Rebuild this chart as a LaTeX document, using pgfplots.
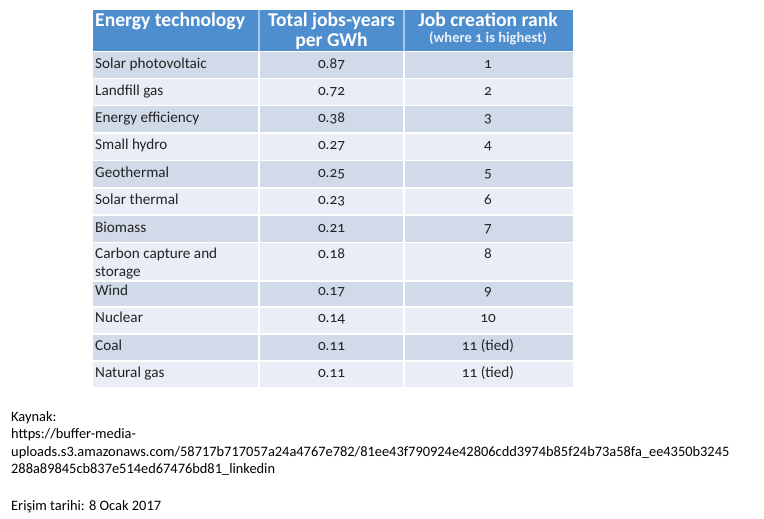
\documentclass[border=0pt]{standalone}
\usepackage{pgfplots}
\pgfplotsset{compat=1.18}
\usepackage{fontspec}
\setmainfont{Carlito}[Numbers=OldStyle]
\newfontfamily\footfont{Carlito}
\definecolor{hdr}{RGB}{79,142,206}
\definecolor{rowA}{RGB}{208,218,233}
\definecolor{rowB}{RGB}{233,237,245}
\definecolor{hdrline}{RGB}{165,200,235}
\definecolor{txt}{RGB}{35,35,35}
\begin{document}
\begin{tikzpicture}
\begin{axis}[
  width=764bp, height=519bp, scale only axis,
  xmin=0, xmax=764, ymin=0, ymax=519, y dir=reverse,
  hide axis, clip=false,
]
% header and row backgrounds
\addplot[fill=hdr, draw=none] coordinates {(93,10) (573,10) (573,51) (93,51)} -- cycle;
\addplot[fill=rowA, draw=none] coordinates {(93,52.5) (573,52.5) (573,78) (93,78)} -- cycle;
\addplot[fill=rowB, draw=none] coordinates {(93,79.5) (573,79.5) (573,105) (93,105)} -- cycle;
\addplot[fill=rowA, draw=none] coordinates {(93,106.5) (573,106.5) (573,132) (93,132)} -- cycle;
\addplot[fill=rowB, draw=none] coordinates {(93,133.5) (573,133.5) (573,159.5) (93,159.5)} -- cycle;
\addplot[fill=rowA, draw=none] coordinates {(93,161) (573,161) (573,187) (93,187)} -- cycle;
\addplot[fill=rowB, draw=none] coordinates {(93,188.5) (573,188.5) (573,214) (93,214)} -- cycle;
\addplot[fill=rowA, draw=none] coordinates {(93,215.5) (573,215.5) (573,241.5) (93,241.5)} -- cycle;
\addplot[fill=rowB, draw=none] coordinates {(93,243) (573,243) (573,280) (93,280)} -- cycle;
\addplot[fill=rowA, draw=none] coordinates {(93,281.5) (573,281.5) (573,306) (93,306)} -- cycle;
\addplot[fill=rowB, draw=none] coordinates {(93,307.5) (573,307.5) (573,333) (93,333)} -- cycle;
\addplot[fill=rowA, draw=none] coordinates {(93,334.5) (573,334.5) (573,360) (93,360)} -- cycle;
\addplot[fill=rowB, draw=none] coordinates {(93,361.5) (573,361.5) (573,387) (93,387)} -- cycle;
% column dividers
\addplot[white, line width=1.5bp] coordinates {(259,51) (259,387)};
\addplot[white, line width=1.5bp] coordinates {(404,51) (404,387)};
\addplot[hdrline, line width=1.2bp] coordinates {(259,10) (259,51)};
\addplot[hdrline, line width=1.2bp] coordinates {(404,10) (404,51)};
% header texts
\addplot[draw=none, mark=none, nodes near coords, point meta=explicit symbolic,
  every node near coord/.style={anchor=base west, inner sep=0pt, text=white, font=\fontsize{19.6bp}{21bp}\bfseries\selectfont}]
  coordinates {(95,27) [Energy technology]};
\addplot[draw=none, mark=none, nodes near coords, point meta=explicit symbolic,
  every node near coord/.style={anchor=base, inner sep=0pt, text=white, font=\fontsize{19.6bp}{21bp}\bfseries\selectfont}]
  coordinates {(331.5,27) [Total jobs-years] (331.5,47) [per GWh] (488,27) [Job creation rank]};
\addplot[draw=none, mark=none, nodes near coords, point meta=explicit symbolic,
  every node near coord/.style={anchor=base, inner sep=0pt, text=white!88!hdr, font=\fontsize{14.5bp}{16bp}\bfseries\selectfont}]
  coordinates {(488,43) [(where 1 is highest)]};
% technology names
\addplot[draw=none, mark=none, nodes near coords, point meta=explicit symbolic,
  every node near coord/.style={anchor=base west, inner sep=0pt, text=txt, font=\fontsize{15.2bp}{17bp}\selectfont}]
  coordinates {
  (95,68.5) [Solar photovoltaic]
  (95,95.5) [Landfill gas]
  (95,122.5) [Energy efficiency]
  (95,150) [Small hydro]
  (95,177.5) [Geothermal]
  (95,204.5) [Solar thermal]
  (95,232) [Biomass]
  (95,258.5) [Carbon capture and]
  (95,276.5) [storage]
  (95,295.5) [Wind]
  (95,322.5) [Nuclear]
  (95,350) [Coal]
  (95,377.5) [Natural gas]
  };
% jobs-years per GWh
\addplot[draw=none, mark=none, nodes near coords, point meta=explicit symbolic,
  every node near coord/.style={anchor=base, inner sep=0pt, text=txt, font=\fontsize{15.2bp}{17bp}\selectfont}]
  coordinates {
  (331.5,68.5) [0.87]
  (331.5,95.5) [0.72]
  (331.5,122.5) [0.38]
  (331.5,150) [0.27]
  (331.5,177.5) [0.25]
  (331.5,204.5) [0.23]
  (331.5,232) [0.21]
  (331.5,258.5) [0.18]
  (331.5,295.5) [0.17]
  (331.5,322.5) [0.14]
  (331.5,350) [0.11]
  (331.5,377.5) [0.11]
  };
% ranks
\addplot[draw=none, mark=none, nodes near coords, point meta=explicit symbolic,
  every node near coord/.style={anchor=base, inner sep=0pt, text=txt, font=\fontsize{15.2bp}{17bp}\selectfont}]
  coordinates {
  (488,68.5) [1]
  (488,95.5) [2]
  (488,122.5) [3]
  (488,150) [4]
  (488,177.5) [5]
  (488,204.5) [6]
  (488,232) [7]
  (488,258.5) [8]
  (488,295.5) [9]
  (488,322.5) [10]
  (488,350) [11 (tied)]
  (488,377.5) [11 (tied)]
  };
% source note
\addplot[draw=none, mark=none, nodes near coords, point meta=explicit symbolic,
  every node near coord/.style={anchor=base west, inner sep=0pt, text=black, font=\footfont\fontsize{14.4bp}{16bp}\selectfont}]
  coordinates {
  (11,421) [Kaynak:]
  (11,438.5) [https://buffer-media-]
  (11,456) [uploads.s3.amazonaws.com/58717b717057a24a4767e782/81ee43f790924e42806cdd3974b85f24b73a58fa\_ee4350b3245]
  (11,473.5) [288a89845cb837e514ed67476bd81\_linkedin]
  (11,510) [Erişim tarihi: 8 Ocak 2017]
  };
\end{axis}
\useasboundingbox (current axis.south west) rectangle (current axis.north east);
\end{tikzpicture}
\end{document}
